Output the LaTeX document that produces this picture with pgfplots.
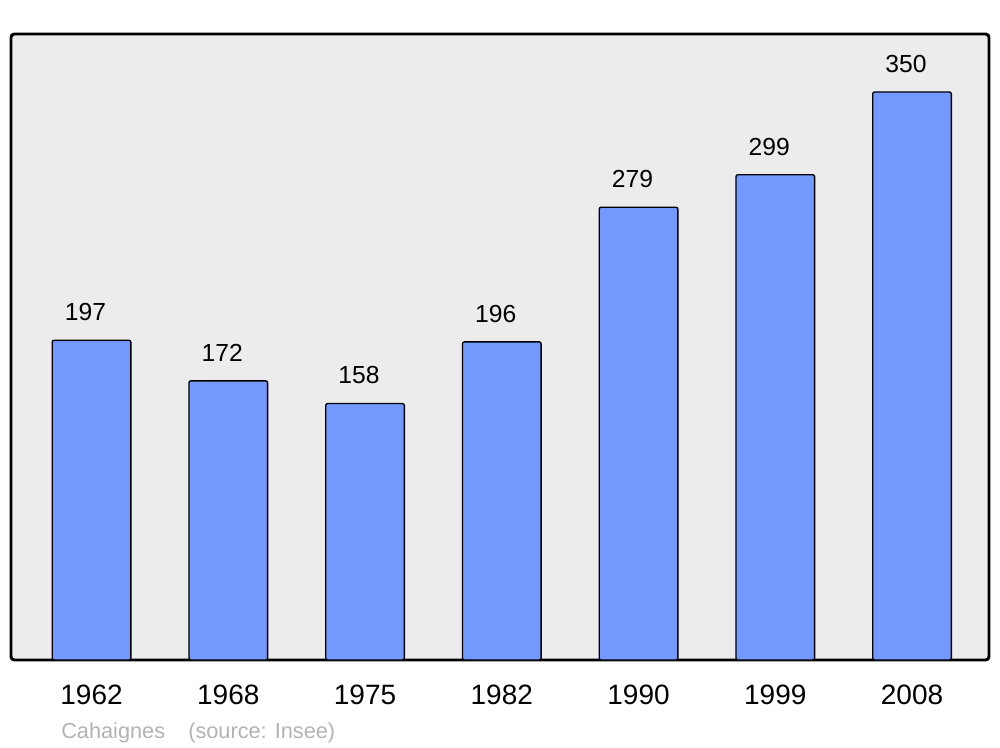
\documentclass[border=0pt]{standalone}
\usepackage{pgfplots}
\pgfplotsset{compat=1.18}
\usepackage{fontspec}
\setmainfont{Liberation Sans}
\definecolor{bg}{HTML}{ECECEC}
\definecolor{barc}{HTML}{7399FF}
\definecolor{src}{HTML}{B3B3B3}
\begin{document}
\begin{tikzpicture}
\begin{axis}[
  at={(0,0)}, anchor=south west,
  scale only axis,
  width=733.5pt, height=469.5pt,
  xmin=-0.589, xmax=6.563,
  ymin=0, ymax=385.7,
  axis line style={line width=2.2pt, rounded corners=2.5pt},
  axis background/.style={fill=bg, rounded corners=2.5pt},
  xtick=data,
  xticklabels={1962,1968,1975,1982,1990,1999,2008},
  ytick=\empty,
  major tick length=0pt,
  xticklabel style={font=\fontsize{21pt}{25pt}\selectfont, inner sep=0pt, anchor=north, yshift=-18.5pt},
  /pgf/number format/assume math mode=true,
  ybar, bar width=59pt,
  nodes near coords,
  every node near coord/.append style={font=\fontsize{18.5pt}{22pt}\selectfont, inner sep=0pt, anchor=south, yshift=14pt, xshift=-4.5pt, black},
  clip=false,
]
\addplot[fill=barc, draw=black, line width=1pt, rounded corners=1.5pt] coordinates {
(0,197) (1,172) (2,158) (3,196) (4,279) (5,299) (6,350)};
\end{axis}
\node[anchor=base west, inner sep=0pt, text=src, font=\fontsize{16.3pt}{19pt}\selectfont] at (37.5pt,-58.5pt) {Cahaignes};
\node[anchor=base west, inner sep=0pt, text=src, font=\fontsize{16.3pt}{19pt}\selectfont] at (132.75pt,-58.5pt) {(source: Insee)};
\useasboundingbox (-8.25pt,-65.25pt) rectangle (741.75pt,495pt);
\end{tikzpicture}
\end{document}
